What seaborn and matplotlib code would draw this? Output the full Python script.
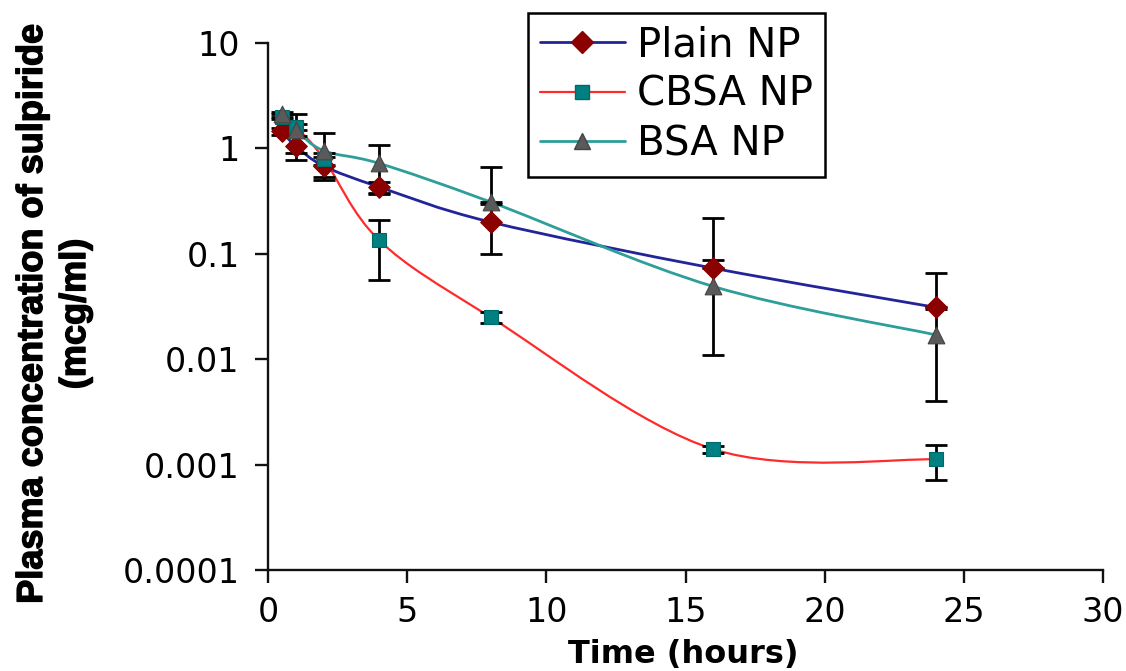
import numpy as np
import pandas as pd
import matplotlib
matplotlib.use("Agg")
import matplotlib.pyplot as plt
import matplotlib.patheffects as pe
import seaborn as sns
from matplotlib.path import Path
from matplotlib.patches import PathPatch
from matplotlib.lines import Line2D
from matplotlib.ticker import FixedLocator, FixedFormatter, NullLocator

# Sampling times (hours)
time_h = [0.5, 1, 2, 4, 8, 16, 24]

# Mean plasma concentration of sulpiride (mcg/ml)
plain_np = [1.45, 1.05, 0.68, 0.43, 0.20, 0.073, 0.031]
cbsa_np = [2.0, 1.6, 0.80, 0.134, 0.025, 0.0014, 0.00112]
bsa_np = [2.1, 1.5, 0.95, 0.72, 0.31, 0.049, 0.017]

# Standard deviations
plain_sd = [0.10, 0.27, 0.15, 0.05, 0.10, 0.147, 0.035]
cbsa_sd = [0.10, 0.10, 0.10, 0.077, 0.003, 0.0001, 0.0004]
bsa_sd = [0.10, 0.60, 0.45, 0.35, 0.35, 0.038, 0.013]

series_names = ["Plain NP", "CBSA NP", "BSA NP"]
x_ticks = [0, 5, 10, 15, 20, 25, 30]
y_tick_labels = ["0.0001", "0.001", "0.01", "0.1", "1", "10"]

styles = {
    "Plain NP": dict(line="#23239a", face="#8b0000", edge="#8b0000", marker="D", ms=11, lw=2.0),
    "CBSA NP": dict(line="#ff2a2a", face="#008080", edge="#006a6a", marker="s", ms=10, lw=1.6),
    "BSA NP": dict(line="#2e9e9a", face="#5a5a5a", edge="#444444", marker="^", ms=12, lw=2.0),
}

sns.set_theme(style="ticks")
plt.rcParams["font.family"] = ["DejaVu Sans"]

fig = plt.figure(figsize=(11.26, 6.71), dpi=100)
ax = fig.add_axes([268 / 1126, 1 - 570 / 671, (1103 - 268) / 1126, (570 - 43) / 671])
ax.set_yscale("log")


def smooth_path(x, y):
    """Smoothed line through the points: cubic Bezier segments whose
    control points follow the Catmull-Rom rule in (x, log10 y)."""
    x = np.asarray(x, float)
    ly = np.log10(np.asarray(y, float))
    n = len(x)
    verts = [(x[0], 10 ** ly[0])]
    codes = [Path.MOVETO]
    for i in range(n - 1):
        i0, i3 = max(i - 1, 0), min(i + 2, n - 1)
        c1x = x[i] + (x[i + 1] - x[i0]) / 6
        c1y = ly[i] + (ly[i + 1] - ly[i0]) / 6
        c2x = x[i + 1] - (x[i3] - x[i]) / 6
        c2y = ly[i + 1] - (ly[i3] - ly[i]) / 6
        verts += [(c1x, 10 ** c1y), (c2x, 10 ** c2y), (x[i + 1], 10 ** ly[i + 1])]
        codes += [Path.CURVE4] * 3
    return Path(verts, codes)


values = {"Plain NP": plain_np, "CBSA NP": cbsa_np, "BSA NP": bsa_np}
sds = {"Plain NP": plain_sd, "CBSA NP": cbsa_sd, "BSA NP": bsa_sd}

handles = []
for name in series_names:
    st = styles[name]
    y = np.asarray(values[name], float)
    sd = np.asarray(sds[name], float)
    df = pd.DataFrame({"time": time_h, "conc": y})

    # smoothed connecting line
    ax.add_patch(PathPatch(smooth_path(time_h, y), facecolor="none",
                           edgecolor=st["line"], lw=st["lw"], zorder=2))

    # error bars (the part below zero is not drawn on the log axis)
    lower = np.where(y - sd > 0, sd, 0.0)
    ax.errorbar(time_h, y, yerr=[lower, sd], fmt="none", ecolor="black",
                elinewidth=2.0, capsize=8, capthick=2.0, zorder=3)

    # markers
    sns.scatterplot(data=df, x="time", y="conc", ax=ax, marker=st["marker"],
                    s=st["ms"] ** 2, color=st["face"], edgecolor=st["edge"],
                    linewidth=0.8, zorder=4, legend=False)

    handles.append(Line2D([0], [0], color=st["line"], lw=st["lw"], marker=st["marker"],
                          markersize=st["ms"], markerfacecolor=st["face"],
                          markeredgecolor=st["edge"]))

ax.set_xlim(0, 30)
ax.set_ylim(1e-4, 10)
ax.xaxis.set_major_locator(FixedLocator(x_ticks))
ax.set_xticklabels([str(t) for t in x_ticks])
y_vals = [float(s) for s in y_tick_labels]
ax.yaxis.set_major_locator(FixedLocator(y_vals))
ax.yaxis.set_major_formatter(FixedFormatter(y_tick_labels))
ax.yaxis.set_minor_locator(NullLocator())

ax.set_xlabel("")
ax.set_ylabel("")
for side in ["top", "right"]:
    ax.spines[side].set_visible(False)
for side in ["left", "bottom"]:
    ax.spines[side].set_color("#111111")
    ax.spines[side].set_linewidth(1.7)
ax.tick_params(axis="both", which="major", direction="out", length=9.5, width=1.7,
               color="#111111", labelsize=24, labelcolor="black")
ax.tick_params(axis="y", pad=11)
ax.tick_params(axis="x", pad=9)

fig.text(683 / 1126, 1 - 654 / 671, "Time (hours)", ha="center", va="center",
         fontsize=23, fontweight="bold", color="black")
fig.text(54 / 1126, 1 - 314 / 671, "Plasma concentration of sulpiride\n(mcg/ml)",
         rotation=90, ha="center", va="center", multialignment="center",
         fontsize=26, fontweight="bold", color="black", linespacing=1.3,
         family=["Liberation Sans Narrow", "Liberation Sans", "DejaVu Sans"],
         path_effects=[pe.withStroke(linewidth=1.0, foreground="black")])

leg = fig.legend(handles, series_names, loc="upper left",
                 bbox_to_anchor=(528 / 1126, 1 - 13 / 671), fontsize=29,
                 frameon=True, fancybox=False, edgecolor="black", framealpha=1,
                 handlelength=2.1, handletextpad=0.3, labelspacing=0.24,
                 borderpad=0.3, borderaxespad=0)
leg.get_frame().set_linewidth(1.8)
for t in leg.get_texts():
    t.set_color("black")

fig.savefig("out.png", dpi=100)
